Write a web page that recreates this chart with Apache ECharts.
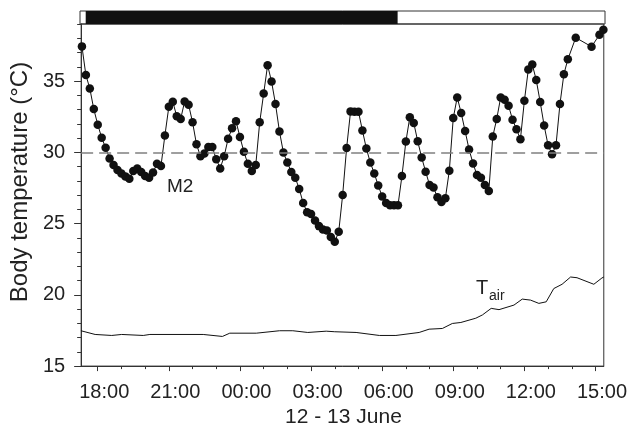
<!DOCTYPE html>
<html>
<head>
<meta charset="utf-8">
<script src="https://cdn.jsdelivr.net/npm/echarts@6.0.0/dist/echarts.min.js"></script>
<style>
  html, body { margin: 0; padding: 0; background: #fff; }
  #chart { width: 630px; height: 433px; }
</style>
</head>
<body>
<div id="chart"></div>
<script>
// time in hours since 00:00 on 12 June (13 June 03:00 -> 27)
const m2Start = 17 + 20 / 60;
const m2Step = 10 / 60;
// body temperature of M2, one reading every 10 min (null = no reading)
const m2Values = [
  37.43, 35.42, 34.47, 33.03, 31.94, 31.02, 30.31, 29.56, 29.10, 28.75,
  28.52, 28.31, 28.15, 28.68, 28.87, 28.61, 28.33, 28.22, 28.59, 29.19,
  29.03, 31.18, 33.20, 33.54, 32.53, 32.34, 33.57, 33.33, 32.11, 30.56,
  29.72, 29.91, 30.37, 30.37, 29.51, 28.87, 29.72, 30.95, 31.69, 32.18,
  31.07, 30.03, 29.19, 28.68, 29.10, 32.11, 34.12, 36.11, 34.96, 33.38,
  31.46, 29.98, 29.28, 28.62, 28.22, 27.43, 26.44, 25.79, 25.67, 25.21,
  24.82, 24.58, 24.51, 24.05, 23.72, 24.42, 27.01, 30.30, 32.87, 32.85,
  32.85, 31.53, 30.26, 29.28, 28.52, 27.67, 26.90, 26.44, 26.28, 26.28,
  26.28, 28.33, 30.75, 32.46, 32.06, 30.77, 29.63, 28.64, 27.71, 27.53,
  26.84, 26.51, 26.78, 28.71, 32.41, 33.85, 32.76, 31.49, 30.19, 29.22,
  28.40, 28.22, 27.71, 27.29, 31.11, 32.34, 33.85, 33.68, 33.26, 32.29,
  31.62, 30.92, 33.61, 35.81, 36.16, 35.07, 33.52, 31.88, 30.49, 29.86,
  30.49, 33.38, 35.48, 36.52, null, 38.04, null, null, null, 37.41,
  null, 38.24, 38.60
];
// air temperature
const tairHours = [
  17.29, 17.89, 18.59, 19.01, 19.92, 20.20, 22.45, 23.26, 23.57, 24.69,
  25.67, 26.23, 26.86, 27.64, 28.00, 28.90, 29.88, 30.58, 31.56, 31.98,
  32.54, 32.96, 33.32, 33.95, 34.23, 34.60, 34.93, 35.56, 35.91, 36.26,
  36.61, 36.92, 37.24, 37.59, 37.95, 38.22, 38.93, 39.27, 39.35
];
const tairValues = [
  17.48, 17.22, 17.15, 17.22, 17.15, 17.22, 17.22, 17.08, 17.31, 17.31,
  17.48, 17.48, 17.36, 17.45, 17.41, 17.36, 17.15, 17.15, 17.36, 17.59,
  17.64, 17.99, 18.06, 18.36, 18.59, 19.05, 18.96, 19.28, 19.70, 19.63,
  19.40, 19.51, 20.44, 20.74, 21.25, 21.20, 20.74, 21.18, 21.25
];
// dark period (black bar)
const nightStart = 17.54;
const nightEnd = 30.64;
const threshold = 30;

const majorHours = [18, 21, 24, 27, 30, 33, 36, 39];
const minorHours = [];
for (let h = 18; h <= 39; h++) minorHours.push(h);
const yLabels = [15, 20, 25, 30, 35];
const yMinor = [];
for (let v = 15; v <= 39; v++) yMinor.push(v);

const xMin = 17.3, xMax = 39.35;
const font = "'Liberation Sans', Arial, sans-serif";
const ink = '#111';
const axisCol = '#333';

const chart = echarts.init(document.getElementById('chart'));

chart.setOption({
  backgroundColor: '#fff',
  animation: false,
  textStyle: { fontFamily: font, color: '#222' },
  grid: [
    { left: 80, right: 25, top: 24, bottom: 63, show: true, borderColor: axisCol, borderWidth: 1 },
    { left: 80, right: 25, top: 11, height: 13, show: true, borderColor: axisCol, borderWidth: 1 }
  ],
  xAxis: [
    {
      gridIndex: 0, type: 'value', min: xMin, max: xMax,
      axisLine: { show: true, lineStyle: { color: axisCol, width: 1 } },
      axisTick: { show: true, inside: false, customValues: majorHours, length: 5, lineStyle: { color: axisCol, width: 1 } },
      axisLabel: {
        customValues: majorHours, fontSize: 20, margin: 16, color: '#222',
        fontFamily: font, padding: [0, 0, 0, 13],
        formatter: v => String(Math.round(v) % 24).padStart(2, '0') + ':00'
      },
      splitLine: { show: false },
      name: '12 - 13 June', nameLocation: 'middle', nameGap: 34,
      nameTextStyle: { fontSize: 21, color: '#222', fontFamily: font, padding: [0, 0, 0, 2] }
    },
    {
      gridIndex: 0, type: 'value', min: xMin, max: xMax, position: 'bottom',
      axisLine: { show: false },
      axisTick: { show: true, inside: false, customValues: minorHours, length: 3, lineStyle: { color: axisCol, width: 1 } },
      axisLabel: { show: false },
      splitLine: { show: false }
    },
    { gridIndex: 1, type: 'value', min: xMin, max: xMax, show: false }
  ],
  yAxis: [
    {
      gridIndex: 0, type: 'value', min: 15, max: 39,
      axisLine: { show: true, lineStyle: { color: axisCol, width: 1 } },
      axisTick: { show: true, inside: false, customValues: yLabels, length: 7, lineStyle: { color: axisCol, width: 1 } },
      axisLabel: { customValues: yLabels, fontSize: 20, margin: 16, color: '#222', fontFamily: font },
      splitLine: { show: false },
      name: 'Body temperature (°C)', nameLocation: 'middle', nameGap: 48,
      nameTextStyle: { fontSize: 24, color: '#222', fontFamily: font, padding: [0, 0, 0, 26] }
    },
    {
      gridIndex: 0, type: 'value', min: 15, max: 39, position: 'left',
      axisLine: { show: false },
      axisTick: { show: true, inside: false, customValues: yMinor, length: 4, lineStyle: { color: axisCol, width: 1 } },
      axisLabel: { show: false },
      splitLine: { show: false }
    },
    { gridIndex: 1, type: 'value', min: 0, max: 1, show: false }
  ],
  series: [
    {
      name: 'Tair', type: 'line', xAxisIndex: 0, yAxisIndex: 0,
      data: tairHours.map((h, i) => [h, tairValues[i]]),
      showSymbol: false, lineStyle: { color: ink, width: 1 }, silent: true
    },
    {
      name: 'M2', type: 'line', xAxisIndex: 0, yAxisIndex: 0,
      data: m2Values.map((v, i) => [m2Start + i * m2Step, v]),
      connectNulls: true, symbol: 'circle', symbolSize: 8.5,
      itemStyle: { color: ink },
      lineStyle: { color: ink, width: 1 },
      silent: true,
      markLine: {
        silent: true, symbol: 'none', label: { show: false },
        lineStyle: { color: '#808080', width: 1.5, type: [12, 6] },
        data: [{ yAxis: threshold }]
      },
      z: 3
    },
    {
      name: 'night', type: 'custom', xAxisIndex: 2, yAxisIndex: 2,
      data: [[nightStart, nightEnd]],
      renderItem: (params, api) => {
        const a = api.coord([api.value(0), 1]);
        const b = api.coord([api.value(1), 0]);
        return {
          type: 'rect',
          shape: { x: a[0], y: a[1], width: b[0] - a[0], height: b[1] - a[1] },
          style: { fill: ink }
        };
      },
      silent: true
    }
  ],
  graphic: [
    { type: 'text', left: 167, top: 177, style: { text: 'M2', fontSize: 19, fontFamily: font, fill: '#222' } },
    { type: 'text', left: 476, top: 278, style: { text: 'T', fontSize: 20, fontFamily: font, fill: '#222' } },
    { type: 'text', left: 489, top: 289, style: { text: 'air', fontSize: 14, fontFamily: font, fill: '#222' } }
  ]
});
</script>
</body>
</html>
